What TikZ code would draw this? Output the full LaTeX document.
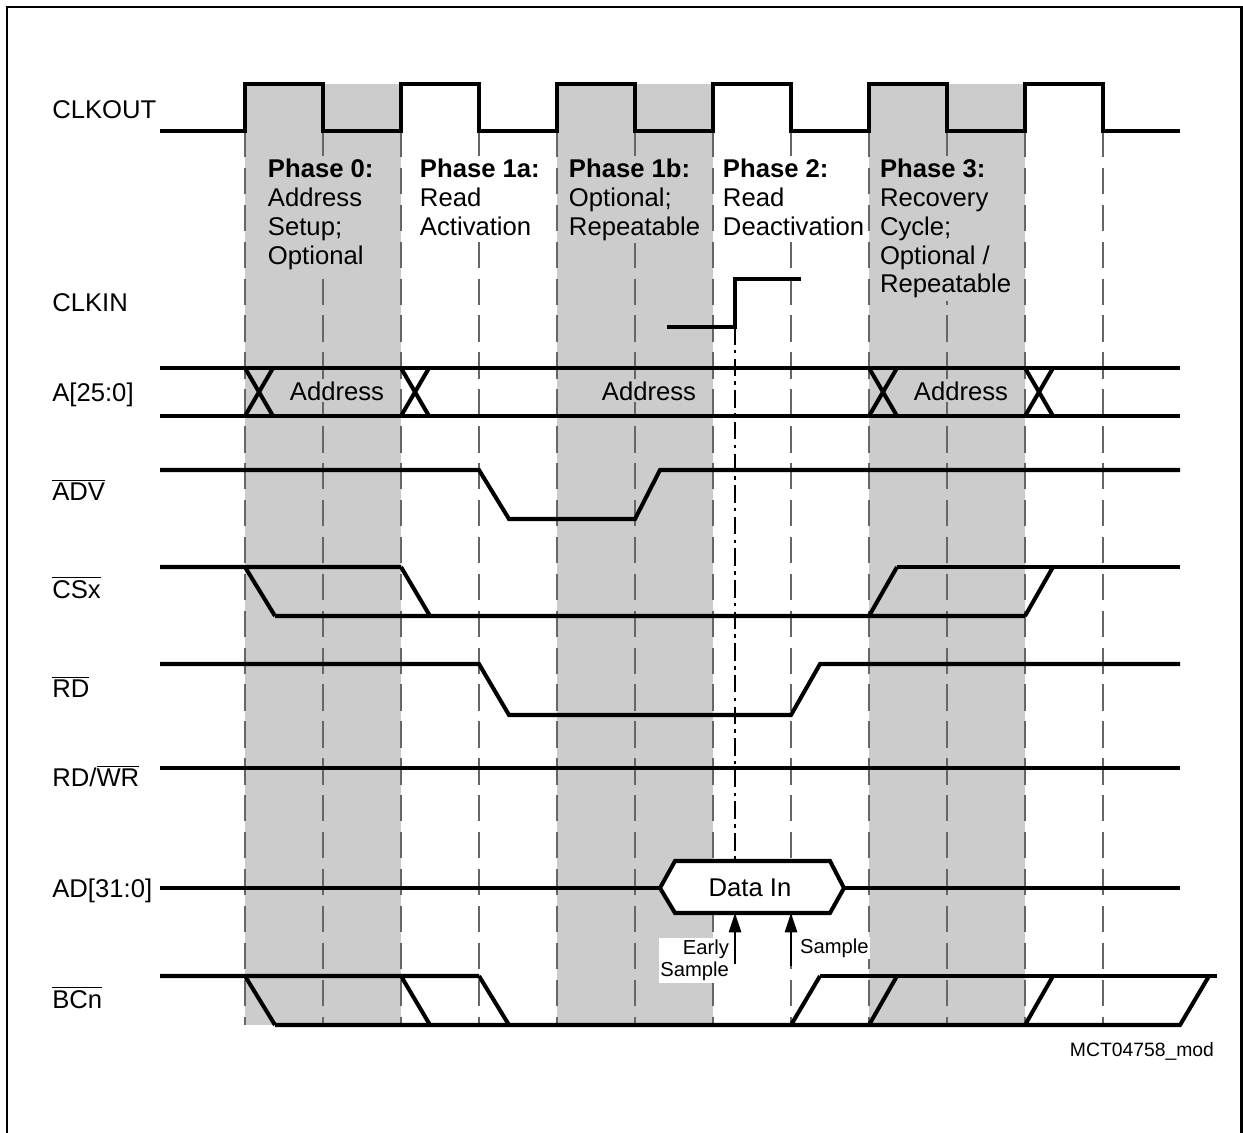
\documentclass[tikz,border=0pt]{standalone}
\usepackage{fontspec}
\setmainfont{Liberation Sans}
\usetikzlibrary{arrows.meta, positioning, calc}

\begin{document}
\begin{tikzpicture}[
    x=0.02cm, y=-0.02cm,
    sig/.style={line width=2.3pt, line join=miter},
    grid/.style={black!60, line width=0.8pt, dash pattern=on 15pt off 6pt},
    probe/.style={black, line width=0.6pt, dash pattern=on 10pt off 3pt on 2pt off 3pt},
    shade/.style={fill=black!20, draw=none},
    lbl/.style={anchor=base west, inner sep=0pt, font=\fontsize{14.6}{16.4}\selectfont},
    phase/.style={anchor=north west, align=left, inner sep=1.5pt,
      font=\fontsize{14.6}{16.4}\selectfont},
    busval/.style={inner sep=1pt, font=\fontsize{14.6}{16.4}\selectfont},
    small/.style={inner sep=1pt, fill=white, font=\fontsize{11.5}{12.6}\selectfont},
    arr/.style={-{Triangle[length=11pt, width=7pt]}, line width=1.2pt}
  ]
    \useasboundingbox (0,0) rectangle (1243,1132);

    % frame (open at the bottom)
    \draw[line width=1.7pt] (7,1140) -- (7,7) -- (1241,7) -- (1241,1140);

    % shaded phases
    \fill[shade] (245,84) rectangle (401,1025);
    \fill[shade] (557,84) rectangle (713,1025);
    \fill[shade] (869,84) rectangle (1025,1025);

    % clock edge markers
    \draw[grid] (245,131) -- (245,1025) (323,131) -- (323,1025)
      (401,131) -- (401,1025) (479,131) -- (479,1025)
      (557,131) -- (557,1025) (635,131) -- (635,1025)
      (713,131) -- (713,1025) (791,131) -- (791,1025)
      (869,131) -- (869,1025) (947,131) -- (947,1025)
      (1025,131) -- (1025,1025) (1103,131) -- (1103,1025);
    \draw[probe] (735,327) -- (735,861);

    % phase texts
    \node[phase, fill=black!20] (ph0) at (265,156)
      {\textbf{Phase 0:}\\Address\\Setup;\\Optional};
    \node[phase, fill=white] (ph1a) at (417,156)
      {\textbf{Phase 1a:}\\Read\\Activation};
    \node[phase, fill=black!20] (ph1b) at (566,156)
      {\textbf{Phase 1b:}\\Optional;\\Repeatable};
    \node[phase, fill=white] (ph2) at (720,156)
      {\textbf{Phase 2:}\\Read\\Deactivation};
    \node[phase, fill=black!20] (ph3) at (877,156)
      {\textbf{Phase 3:}\\Recovery\\Cycle;\\Optional /\\Repeatable};

    % signal names
    \node[lbl] (clkout) at (52,118) {CLKOUT};
    \node[lbl] (clkin) at (52,311) {CLKIN};
    \node[lbl] (addr) at (52,401) {A[25:0]};
    \node[lbl] (adv) at (52,500) {$\overline{\mbox{ADV}}$};
    \node[lbl] (csx) at (52,598) {$\overline{\mbox{CSx}}$};
    \node[lbl] (rd) at (52,697) {$\overline{\mbox{RD}}$};
    \node[lbl] (rdwr) at (52,786) {RD/$\overline{\mbox{WR}}$};
    \node[lbl] (ad) at (52,897) {AD[31:0]};
    \node[lbl] (bcn) at (52,1008) {$\overline{\mbox{BCn}}$};

    % CLKOUT
    \draw[sig] (160,131) -- (245,131) -- (245,84) -- (323,84) -- (323,131)
      -- (401,131) -- (401,84) -- (479,84) -- (479,131)
      -- (557,131) -- (557,84) -- (635,84) -- (635,131)
      -- (713,131) -- (713,84) -- (791,84) -- (791,131)
      -- (869,131) -- (869,84) -- (947,84) -- (947,131)
      -- (1025,131) -- (1025,84) -- (1103,84) -- (1103,131) -- (1180,131);

    % CLKIN
    \draw[sig] (667,327) -- (735,327) -- (735,279) -- (801,279);

    % A[25:0]
    \draw[sig] (160,368) -- (1180,368) (160,416) -- (1180,416);
    \draw[sig] (245,368) -- (273,416) (245,416) -- (273,368)
      (401,368) -- (429,416) (401,416) -- (429,368)
      (869,368) -- (897,416) (869,416) -- (897,368)
      (1025,368) -- (1053,416) (1025,416) -- (1053,368);
    \node[busval, fill=black!20] (adr0) at (337,391) {Address};
    \node[busval, fill=black!20] (adr1) at (649,391) {Address};
    \node[busval, fill=black!20] (adr2) at (961,391) {Address};

    % ADV
    \draw[sig] (160,470) -- (479,470) -- (509,519) -- (635,519) -- (660,470) -- (1180,470);

    % CSx
    \draw[sig] (160,567) -- (401,567) (245,567) -- (275,616) (401,567) -- (430,616);
    \draw[sig] (275,616) -- (1025,616) (869,616) -- (897,567) (1025,616) -- (1053,567);
    \draw[sig] (897,567) -- (1180,567);

    % RD
    \draw[sig] (160,664) -- (479,664) -- (509,715) -- (791,715) -- (820,664) -- (1180,664);

    % RD/WR
    \draw[sig] (160,768) -- (1180,768);

    % AD[31:0]
    \draw[sig] (160,888) -- (660,888) (844,888) -- (1180,888);
    \draw[sig, fill=white] (660,888) -- (675,861) -- (830,861) -- (844,888)
      -- (830,913) -- (675,913) -- cycle;
    \node[busval] (datain) at (750,888) {Data In};

    % sample points
    \coordinate (earlytail) at (735,964);
    \coordinate (earlyhead) at (735,913);
    \coordinate (sampletail) at (791,966);
    \coordinate (samplehead) at (791,913);
    \draw[arr] (earlytail) -- (earlyhead);
    \draw[arr] (sampletail) -- (samplehead);
    \node[small, anchor=north east, align=right] (early) at (731,938) {Early\\Sample};
    \node[small, anchor=base west] (sample) at (798,953) {Sample};

    % BCn
    \draw[sig] (160,976) -- (479,976) (245,976) -- (275,1025)
      (401,976) -- (430,1025) (479,976) -- (509,1025);
    \draw[sig] (275,1025) -- (1180,1025) -- (1209,976)
      (791,1025) -- (820,976) (869,1025) -- (897,976) (1025,1025) -- (1053,976);
    \draw[sig] (820,976) -- (1217,976);

    \node[small, anchor=base east, font=\fontsize{11}{12}\selectfont] (docid) at (1216,1056) {MCT04758\_mod};
\end{tikzpicture}
\end{document}
